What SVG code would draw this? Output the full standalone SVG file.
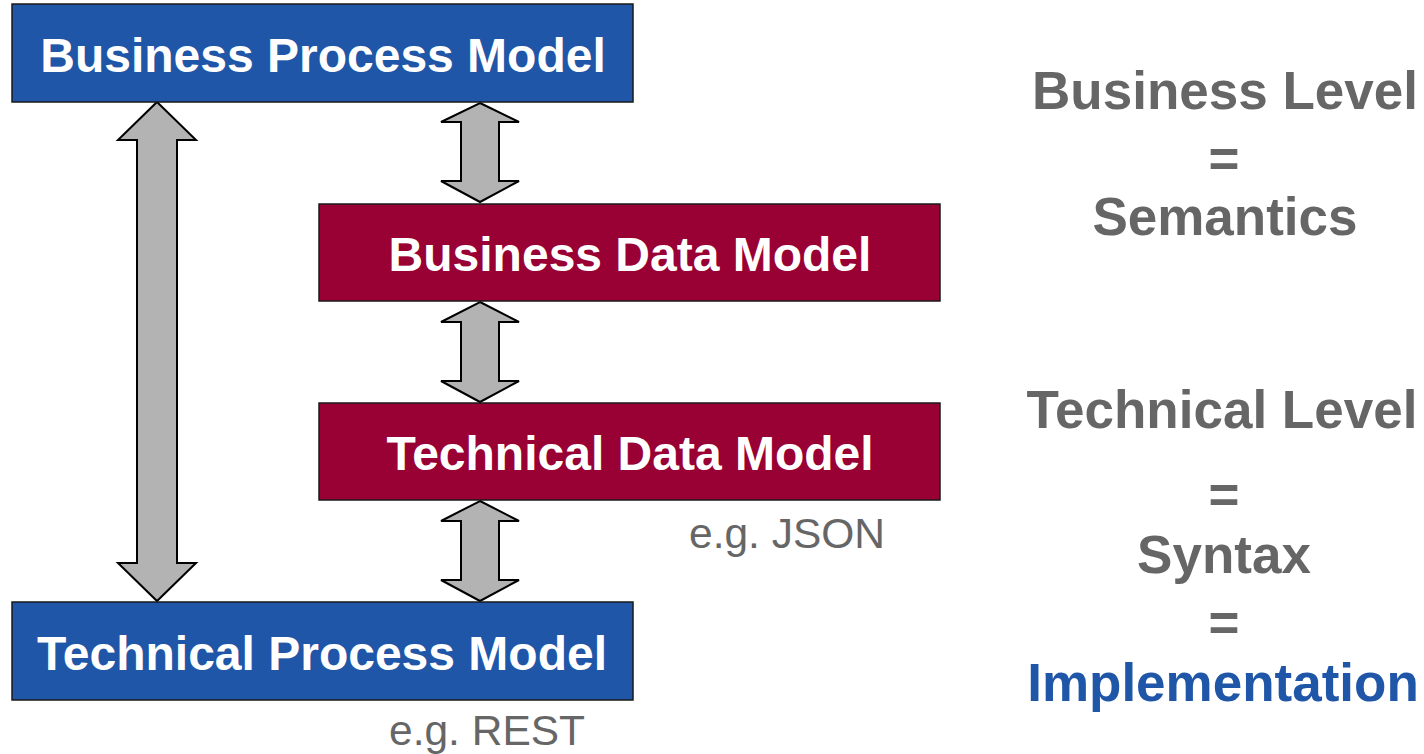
<svg xmlns="http://www.w3.org/2000/svg" width="1424" height="754" viewBox="0 0 1424 754">
<style>
.box{stroke:#1a1a1a;stroke-width:1.5}
.blue{fill:#1F56A8}
.red{fill:#990033}
.bt{font-family:"Liberation Sans",Arial,sans-serif;font-weight:bold;font-size:48px;fill:#fff;text-anchor:middle}
.arr{fill:#B3B3B3;stroke:#000;stroke-width:2;stroke-linejoin:miter}
.rt{font-family:"Liberation Sans",Arial,sans-serif;font-weight:bold;font-size:53px;fill:#666;text-anchor:middle}
.note{font-family:"Liberation Sans",Arial,sans-serif;font-size:42.5px;fill:#666}
</style>
<rect width="1424" height="754" fill="#fff"/>
<g id="connectors">
<path class="arr" d="M157,102 L196,140 L177,140 L177,563 L196,563 L157,601 L118,563 L137,563 L137,140 L118,140 Z"/>
<path class="arr" d="M480,103 L519,122 L499,122 L499,181 L519,181 L480,202 L441,181 L461,181 L461,122 L441,122 Z"/>
<path class="arr" d="M480,302 L519,322 L499,322 L499,381 L519,381 L480,402 L441,381 L461,381 L461,322 L441,322 Z"/>
<path class="arr" d="M480,501 L519,521 L499,521 L499,580 L519,580 L480,601 L441,580 L461,580 L461,521 L441,521 Z"/>
</g>
<g id="bpm"><rect class="box blue" x="12" y="4" width="621" height="98"/><text class="bt" x="323" y="72">Business Process Model</text></g>
<g id="bdm"><rect class="box red" x="319" y="204" width="621" height="97"/><text class="bt" x="630" y="271">Business Data Model</text></g>
<g id="tdm"><rect class="box red" x="319" y="403" width="621" height="97"/><text class="bt" x="630" y="470">Technical Data Model</text></g>
<g id="tpm"><rect class="box blue" x="12" y="602" width="621" height="98"/><text class="bt" x="322" y="670">Technical Process Model</text></g>
<g id="notes">
<text class="note" x="689" y="548">e.g. JSON</text>
<text class="note" x="389" y="745">e.g. REST</text>
</g>
<g id="levels">
<text class="rt" x="1225" y="109">Business Level</text>
<text class="rt" x="1224" y="177">=</text>
<text class="rt" x="1225" y="235">Semantics</text>
<text class="rt" x="1222" y="428">Technical Level</text>
<text class="rt" x="1224" y="513">=</text>
<text class="rt" x="1224" y="573">Syntax</text>
<text class="rt" x="1224" y="641">=</text>
<text class="rt" x="1223" y="701" style="fill:#1F56A8">Implementation</text>
</g>
</svg>
